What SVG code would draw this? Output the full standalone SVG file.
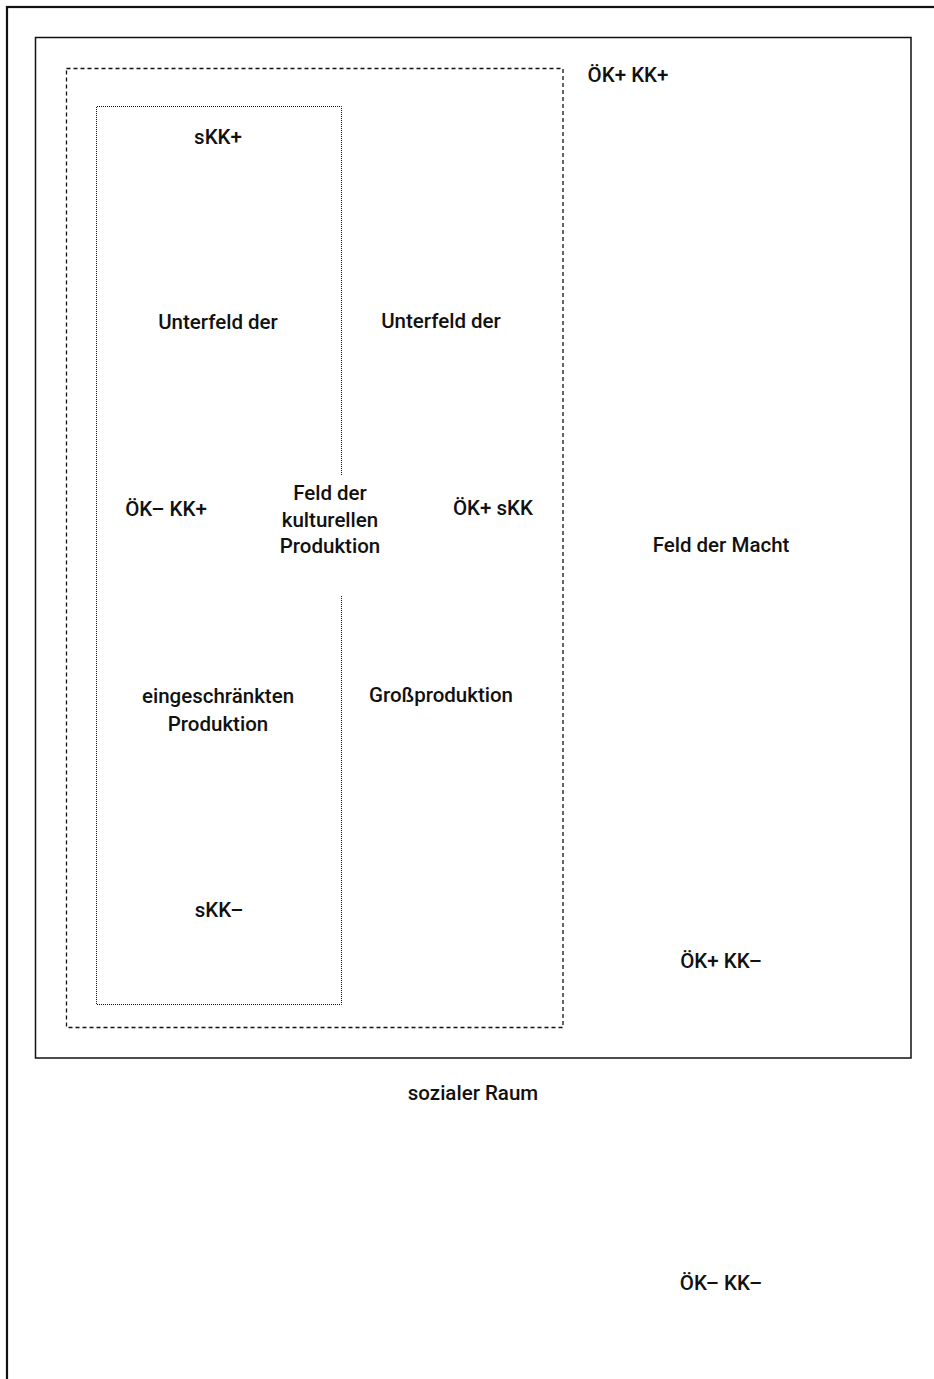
<svg xmlns="http://www.w3.org/2000/svg" width="934" height="1379" viewBox="0 0 934 1379">
<style>
.t{font-family:Roboto,"Liberation Sans",sans-serif;font-size:20.5px;font-weight:500;fill:#111;text-anchor:middle}
.frame{fill:none;stroke:#111}
</style>
<rect width="934" height="1379" fill="#fff"/>
<g id="outer"><rect class="frame" x="7" y="7" width="1000" height="1500" stroke-width="2.2"/></g>
<g id="sozialer-raum">
<rect class="frame" x="35.5" y="37.5" width="875.5" height="1020.5" stroke-width="1.5"/>
</g>
<g id="feld-der-macht">
<rect class="frame" x="66.5" y="68.5" width="496.5" height="959" stroke-width="1.3" stroke-dasharray="4 3"/>
</g>
<g id="feld-kulturelle-produktion">
<path class="frame" d="M341.5 475 V106.5 H96.5 V1004.5 H341.5 V596" stroke-width="1" stroke="#444" stroke-dasharray="1 1"/>
</g>
<g id="labels">
<text class="t" x="628" y="82">ÖK+ KK+</text>
<text class="t" x="218" y="144">sKK+</text>
<text class="t" x="218" y="329">Unterfeld der</text>
<text class="t" x="441" y="328">Unterfeld der</text>
<text class="t" x="166" y="516">ÖK– KK+</text>
<text class="t" x="330" y="500">Feld der</text>
<text class="t" x="330" y="527">kulturellen</text>
<text class="t" x="330" y="553">Produktion</text>
<text class="t" x="493" y="515">ÖK+ sKK</text>
<text class="t" x="721" y="552">Feld der Macht</text>
<text class="t" x="218" y="703">eingeschränkten</text>
<text class="t" x="218" y="731">Produktion</text>
<text class="t" x="441" y="702">Großproduktion</text>
<text class="t" x="219" y="917">sKK–</text>
<text class="t" x="721" y="968">ÖK+ KK–</text>
<text class="t" x="473" y="1100">sozialer Raum</text>
<text class="t" x="721" y="1290">ÖK– KK–</text>
</g>
</svg>
